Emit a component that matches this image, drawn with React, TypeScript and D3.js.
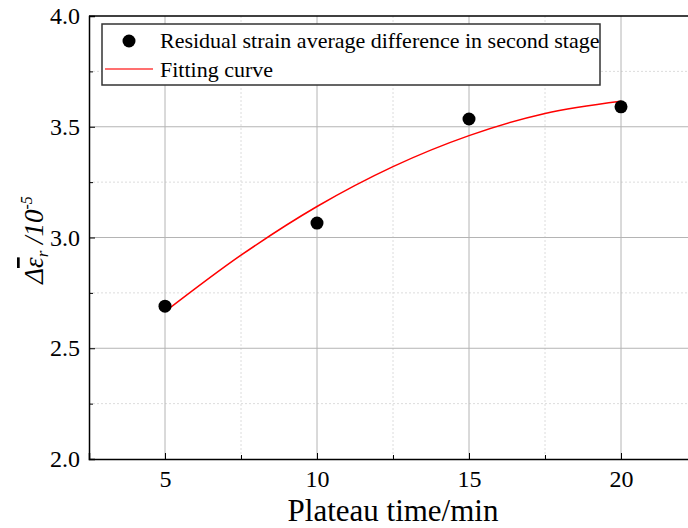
import React, { useEffect, useRef } from 'react';
import * as d3 from 'd3';

const plateauTime = [5, 10, 15, 20];
const strainDiff = [2.69, 3.065, 3.535, 3.59];

// fitting curve
const fitTime = [5, 7.5, 10, 12.5, 15, 17.5, 20];
const fitValue = [2.665, 2.92, 3.14, 3.32, 3.46, 3.56, 3.615];

const xMajor = [5, 10, 15, 20];
const xMinor = [7.5, 12.5, 17.5];
const yMajor = [2.0, 2.5, 3.0, 3.5, 4.0];
const yMinor = [2.25, 2.75, 3.25, 3.75];

const App = () => {
    const ref = useRef<SVGSVGElement>(null);

    useEffect(() => {
        const svg = d3.select(ref.current);
        svg.selectAll('*').remove();

        const left = 89, top = 16, right = 697, bottom = 459;
        const font = "'Liberation Serif', 'Times New Roman', 'DejaVu Serif', serif";

        const x = d3.scaleLinear().domain([2.5, 22.5]).range([left, right]);
        const y = d3.scaleLinear().domain([2.0, 4.0]).range([bottom, top]);

        svg.append('rect').attr('width', 688).attr('height', 528).attr('fill', '#fff');

        // grid
        const g = svg.append('g');
        g.selectAll('.xmin').data(xMinor).enter().append('line')
            .attr('x1', d => x(d)).attr('x2', d => x(d)).attr('y1', top).attr('y2', bottom)
            .attr('stroke', '#dcdcdc').attr('stroke-dasharray', '2,2');
        g.selectAll('.ymin').data(yMinor).enter().append('line')
            .attr('y1', d => y(d)).attr('y2', d => y(d)).attr('x1', left).attr('x2', right)
            .attr('stroke', '#dcdcdc').attr('stroke-dasharray', '2,2');
        g.selectAll('.xmaj').data(xMajor).enter().append('line')
            .attr('x1', d => x(d)).attr('x2', d => x(d)).attr('y1', top).attr('y2', bottom)
            .attr('stroke', '#b4b4b4');
        g.selectAll('.ymaj').data(yMajor.slice(1, -1)).enter().append('line')
            .attr('y1', d => y(d)).attr('y2', d => y(d)).attr('x1', left).attr('x2', right)
            .attr('stroke', '#b4b4b4');

        // fitting curve
        const line = d3.line<number>()
            .x((d, i) => x(fitTime[i]))
            .y(d => y(d))
            .curve(d3.curveMonotoneX);
        svg.append('path').datum(fitValue)
            .attr('fill', 'none').attr('stroke', '#ff0000').attr('stroke-width', 1.5)
            .attr('d', line);

        // points
        svg.selectAll('.dot').data(strainDiff).enter().append('circle')
            .attr('cx', (d, i) => x(plateauTime[i])).attr('cy', d => y(d))
            .attr('r', 6.5).attr('fill', '#000');

        // axes (inward ticks)
        const xAxis = svg.append('g').attr('transform', `translate(0,${bottom})`)
            .call(d3.axisBottom(x).tickValues(xMajor).tickSize(-6).tickPadding(11).tickFormat(d3.format('d')));
        svg.append('g').attr('transform', `translate(0,${bottom})`)
            .call(d3.axisBottom(x).tickValues(xMinor).tickSize(-4).tickFormat(() => ''))
            .select('.domain').remove();
        const yAxis = svg.append('g').attr('transform', `translate(${left},0)`)
            .call(d3.axisLeft(y).tickValues(yMajor).tickSize(-6).tickPadding(9).tickFormat(d3.format('.1f')));
        svg.append('g').attr('transform', `translate(${left},0)`)
            .call(d3.axisLeft(y).tickValues(yMinor).tickSize(-4).tickFormat(() => ''))
            .select('.domain').remove();

        [xAxis, yAxis].forEach(a => {
            a.attr('font-family', null).attr('font-size', null);
            a.selectAll('text').style('font-family', font).style('font-size', '24px').attr('fill', '#000');
            a.select('.domain').attr('stroke', '#000').attr('stroke-width', 1.5);
        });
        svg.selectAll('.tick line').attr('stroke', '#000');

        // top spine
        svg.append('line').attr('x1', left).attr('x2', right).attr('y1', top).attr('y2', top)
            .attr('stroke', '#000').attr('stroke-width', 1.5);

        // axis titles
        svg.append('text')
            .attr('x', (left + right) / 2).attr('y', 521)
            .attr('text-anchor', 'middle')
            .style('font-family', font).style('font-size', '31px')
            .text('Plateau time/min');

        const yt = svg.append('text')
            .attr('transform', 'translate(43,240) rotate(-90)')
            .attr('text-anchor', 'middle')
            .style('font-family', font).style('font-size', '27px').style('font-style', 'italic');
        yt.append('tspan').text('Δ');
        yt.append('tspan').style('text-decoration', 'overline').text('ε');
        yt.append('tspan').style('font-size', '17px').attr('dy', 5).text('r');
        yt.append('tspan').attr('dy', -5).text(' /10');
        yt.append('tspan').style('font-size', '16px').attr('dy', -11).text('-5');

        // legend
        const lg = svg.append('g');
        lg.append('rect').attr('x', 102).attr('y', 24).attr('width', 498).attr('height', 61)
            .attr('fill', '#fff').attr('stroke', '#333').attr('stroke-width', 1.5);
        lg.append('circle').attr('cx', 129).attr('cy', 41).attr('r', 6.5).attr('fill', '#000');
        lg.append('line').attr('x1', 105).attr('x2', 153).attr('y1', 69).attr('y2', 69)
            .attr('stroke', '#ff4040').attr('stroke-width', 1.5);
        lg.append('text').attr('x', 160).attr('y', 48)
            .style('font-family', font).style('font-size', '22px')
            .text('Residual strain average difference in second stage');
        lg.append('text').attr('x', 160).attr('y', 77)
            .style('font-family', font).style('font-size', '22px')
            .text('Fitting curve');
    }, []);

    return (
        <svg ref={ref} width={688} height={528}
            style={{ position: 'absolute', left: 0, top: 0, display: 'block' }} />
    );
};

export default App;
